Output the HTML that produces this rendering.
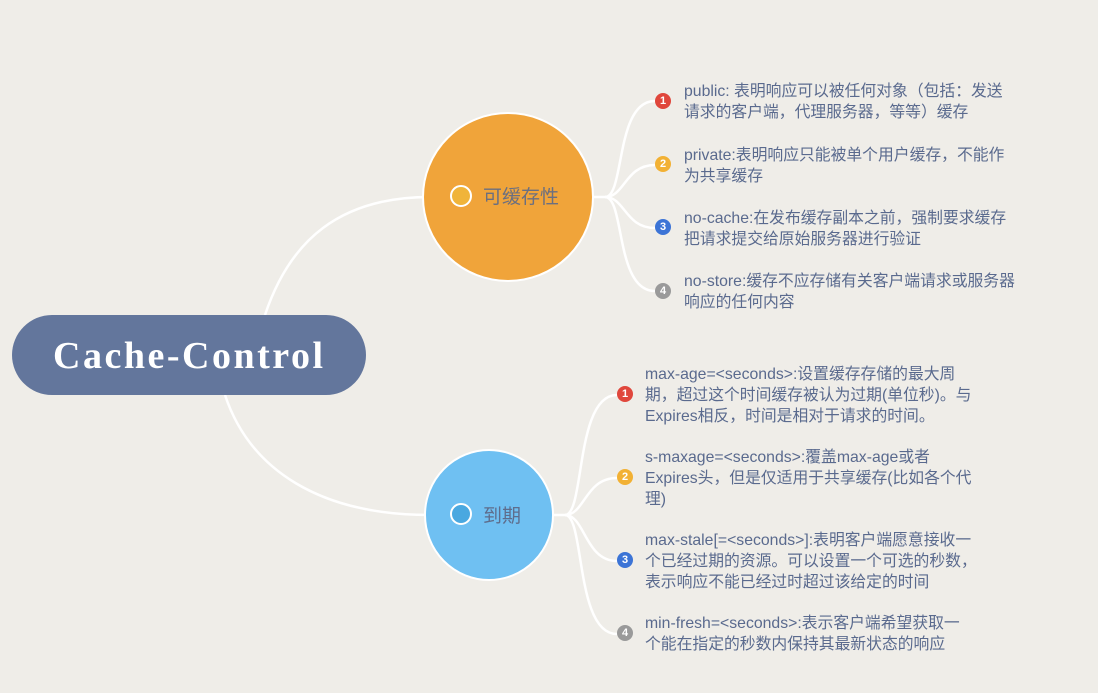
<!DOCTYPE html>
<html><head><meta charset="utf-8"><style>
body{margin:0;width:1098px;height:693px;background:#efede8;position:relative;overflow:hidden;font-family:"Liberation Sans","Noto Sans CJK SC",sans-serif}
.t{position:absolute;font-size:15.8px;line-height:21px;color:#5a6a8e;white-space:nowrap}
.b{position:absolute;width:16px;height:16px;border-radius:50%;color:#fff;font-size:11px;font-weight:bold;text-align:center;line-height:16px}
</style></head><body>
<svg width="1098" height="693" style="position:absolute;left:0;top:0">
<g fill="none" stroke="#fff" stroke-width="2.5">
<path d="M265 315 C290 240 340 197 430 197"/>
<path d="M225 395 C250 470 320 515 430 515"/>
<path d="M590 197 L605 197 C625 197 615 101 655 101"/>
<path d="M605 197 C625 197 625 165 655 165"/>
<path d="M605 197 C625 197 625 228 655 228"/>
<path d="M605 197 C625 197 615 291 655 291"/>
<path d="M552 515 L565 515 C585 515 575 395 617 395"/>
<path d="M565 515 C585 515 585 478 617 478"/>
<path d="M565 515 C585 515 585 561 617 561"/>
<path d="M565 515 C585 515 575 634 617 634"/>
</g>
<rect x="12" y="315" width="354" height="80" rx="40" fill="#63769c"/>
<text x="189" y="368" text-anchor="middle" fill="#fff" font-family="Liberation Serif,serif" font-weight="bold" font-size="38" letter-spacing="2" textLength="272">Cache-Control</text>
<ellipse cx="508" cy="197" rx="85" ry="84" fill="#f0a43a" stroke="#fff" stroke-width="2"/>
<circle cx="461" cy="196" r="10" fill="#f0b43a" stroke="#fff" stroke-width="2"/>
<text x="483" y="203" fill="#6b6f80" font-size="19" font-family="Liberation Sans,Noto Sans CJK SC,sans-serif">可缓存性</text>
<ellipse cx="489" cy="515" rx="64" ry="65" fill="#6fc0f2" stroke="#fff" stroke-width="2"/>
<circle cx="461" cy="514" r="10" fill="#4aa8e0" stroke="#fff" stroke-width="2"/>
<text x="483" y="522" fill="#5e6d8c" font-size="19" font-family="Liberation Sans,Noto Sans CJK SC,sans-serif">到期</text>
</svg>
<div class="b" style="left:655px;top:93px;background:#e0473c">1</div>
<div class="b" style="left:655px;top:156px;background:#f2b134">2</div>
<div class="b" style="left:655px;top:219px;background:#3c74d6">3</div>
<div class="b" style="left:655px;top:283px;background:#9a9a9a">4</div>
<div class="t" style="left:684px;top:81px">public: 表明响应可以被任何对象（包括：发送<br>请求的客户端，代理服务器，等等）缓存</div>
<div class="t" style="left:684px;top:145px">private:表明响应只能被单个用户缓存，不能作<br>为共享缓存</div>
<div class="t" style="left:684px;top:208px">no-cache:在发布缓存副本之前，强制要求缓存<br>把请求提交给原始服务器进行验证</div>
<div class="t" style="left:684px;top:271px">no-store:缓存不应存储有关客户端请求或服务器<br>响应的任何内容</div>
<div class="b" style="left:617px;top:386px;background:#e0473c">1</div>
<div class="b" style="left:617px;top:469px;background:#f2b134">2</div>
<div class="b" style="left:617px;top:552px;background:#3c74d6">3</div>
<div class="b" style="left:617px;top:625px;background:#9a9a9a">4</div>
<div class="t" style="left:645px;top:364px">max-age=&lt;seconds&gt;:设置缓存存储的最大周<br>期，超过这个时间缓存被认为过期(单位秒)。与<br>Expires相反，时间是相对于请求的时间。</div>
<div class="t" style="left:645px;top:447px">s-maxage=&lt;seconds&gt;:覆盖max-age或者<br>Expires头，但是仅适用于共享缓存(比如各个代<br>理)</div>
<div class="t" style="left:645px;top:530px">max-stale[=&lt;seconds&gt;]:表明客户端愿意接收一<br>个已经过期的资源。可以设置一个可选的秒数，<br>表示响应不能已经过时超过该给定的时间</div>
<div class="t" style="left:645px;top:613px">min-fresh=&lt;seconds&gt;:表示客户端希望获取一<br>个能在指定的秒数内保持其最新状态的响应</div>
</body></html>
